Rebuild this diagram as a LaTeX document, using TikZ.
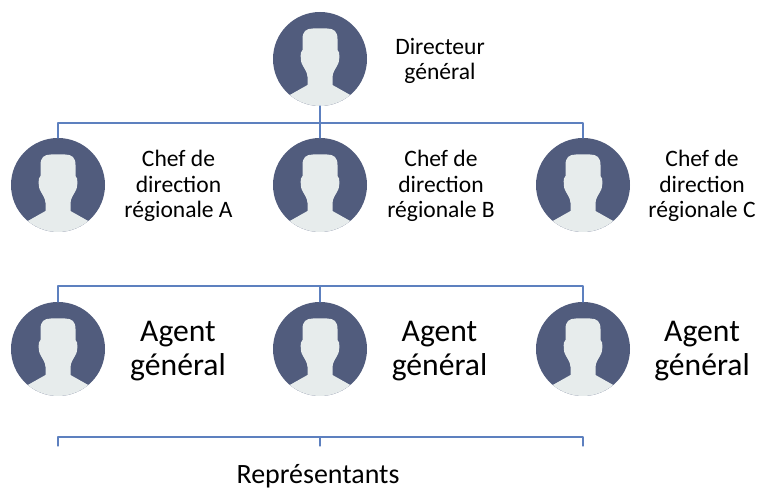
\documentclass[tikz,border=0pt]{standalone}
\usepackage{xcolor}
\usepackage{fontspec}
\setmainfont{Carlito}
\definecolor{discblue}{rgb}{0.318,0.361,0.490}
\definecolor{headgray}{rgb}{0.906,0.925,0.925}
\definecolor{linkblue}{rgb}{0.365,0.500,0.750}
\tikzset{
  avatar/.style={circle,fill=discblue,minimum size=1.88cm,inner sep=0pt,outer sep=0pt},
  link/.style={line width=0.7pt,color=linkblue},
  smalltext/.style={align=center,font=\fontsize{13.4}{14.6}\selectfont},
  bigtext/.style={align=center,font=\fontsize{18}{19.4}\selectfont},
  head/.pic={
    \fill [headgray] (-0.604,-0.72) -- (-0.25,-0.52) -- (-0.25,-0.36)
      .. controls (-0.25,-0.26) and (-0.33,-0.17) .. (-0.36,-0.1)
      .. controls (-0.39,-0.05) and (-0.39,0.08) .. (-0.38,0.13)
      -- (-0.35,0.18) -- (-0.35,0.4)
      .. controls (-0.35,0.55) and (-0.28,0.61) .. (-0.14,0.61)
      -- (0.14,0.61)
      .. controls (0.28,0.61) and (0.35,0.55) .. (0.35,0.4)
      -- (0.35,0.18) -- (0.38,0.13)
      .. controls (0.39,0.08) and (0.39,-0.05) .. (0.36,-0.1)
      .. controls (0.33,-0.17) and (0.25,-0.26) .. (0.25,-0.36)
      -- (0.25,-0.52) -- (0.604,-0.72)
      arc (310:230:0.94) -- cycle;
  }
}
\begin{document}
\begin{tikzpicture}[line cap=round,line join=round,x=1cm,y=1cm]
\useasboundingbox (0,0) rectangle (15.16,9.76);
% top
\node [avatar] (dg) at (6.4,8.58) {};
\pic at (dg) {head};
\node [smalltext] (dgtext) at (8.8,8.54) {Directeur\\général};
% chefs
\node [avatar] (chefa) at (1.16,6.06) {};
\node [avatar] (chefb) at (6.4,6.06) {};
\node [avatar] (chefc) at (11.66,6.06) {};
\pic at (chefa) {head};
\pic at (chefb) {head};
\pic at (chefc) {head};
\node [smalltext] (chefatext) at (3.57,6.04) {Chef de\\direction\\régionale A};
\node [smalltext] (chefbtext) at (8.82,6.04) {Chef de\\direction\\régionale B};
\node [smalltext] (chefctext) at (14.04,6.04) {Chef de\\direction\\régionale C};
% agents
\node [avatar] (agenta) at (1.16,2.78) {};
\node [avatar] (agentb) at (6.4,2.78) {};
\node [avatar] (agentc) at (11.66,2.78) {};
\pic at (agenta) {head};
\pic at (agentb) {head};
\pic at (agentc) {head};
\node [bigtext] (agentatext) at (3.56,2.74) {Agent\\général};
\node [bigtext] (agentbtext) at (8.79,2.74) {Agent\\général};
\node [bigtext] (agentctext) at (14.04,2.74) {Agent\\général};
% links
\coordinate (busa) at (6.4,7.3);
\coordinate (busb) at (6.4,4.04);
\coordinate (bracem) at (6.4,1.02);
\coordinate (tickl) at (1.16,0.84);
\coordinate (tickm) at (6.4,0.84);
\coordinate (tickr) at (11.66,0.84);
\draw [link] (dg) -- (chefb);
\draw [link] (chefa) |- (busa) -| (chefc);
\draw [link] (agentb) -- (busb);
\draw [link] (agenta) |- (busb) -| (agentc);
\draw [link] (tickl) |- (bracem) -| (tickr);
\draw [link] (bracem) -- (tickm);
\node [font=\fontsize{15.9}{18}\selectfont,inner sep=0pt] (rep) at (6.36,0.24) {Représentants};
\end{tikzpicture}
\end{document}
